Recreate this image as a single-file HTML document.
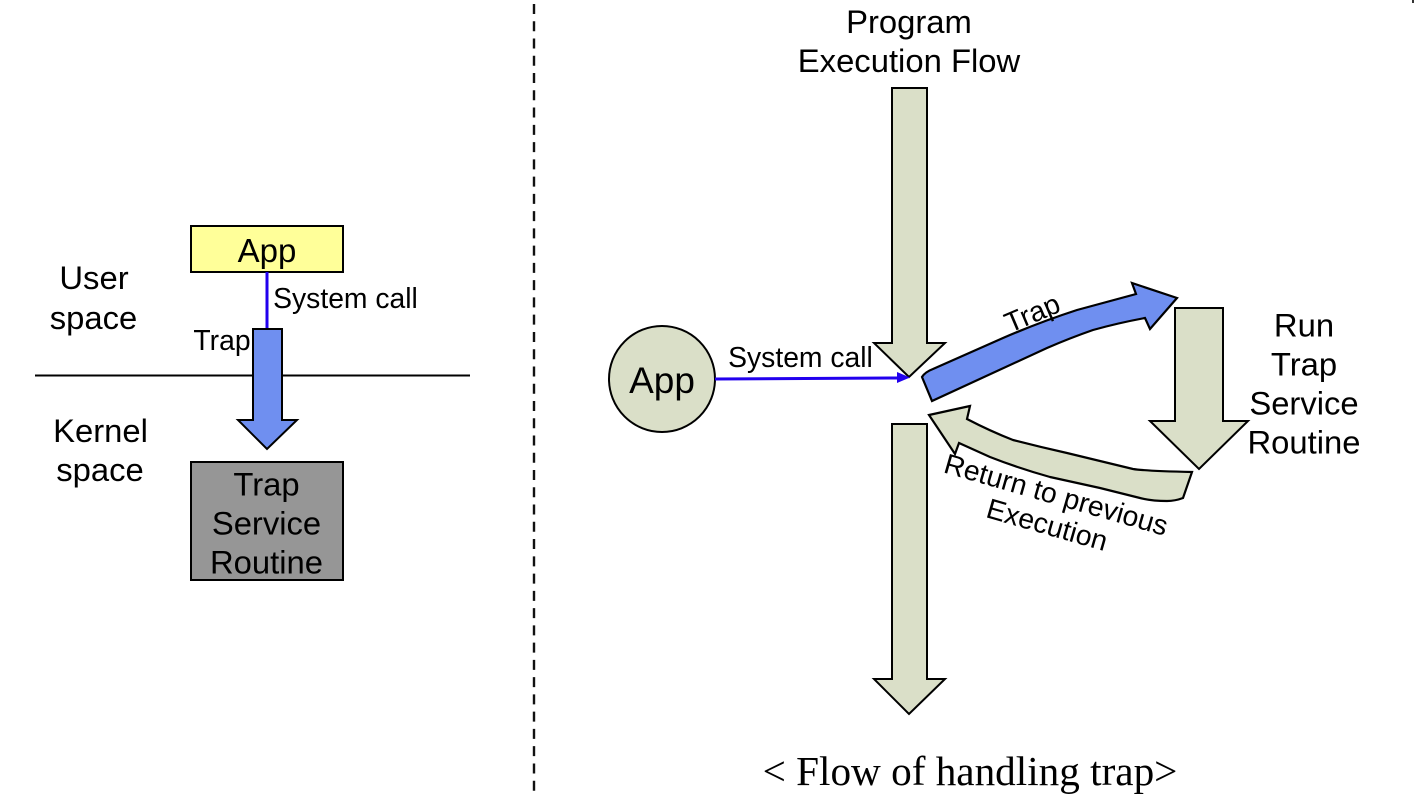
<!DOCTYPE html>
<html>
<head>
<meta charset="utf-8">
<style>
html,body{margin:0;padding:0;background:#fff;width:1414px;height:798px;overflow:hidden}
svg{display:block}
text{font-family:"Liberation Sans",sans-serif;fill:#000;text-anchor:middle}
</style>
</head>
<body>
<svg width="1414" height="798" viewBox="0 0 1414 798" xmlns="http://www.w3.org/2000/svg">
<rect width="1414" height="798" fill="#fff"/>
<rect x="1412" y="0" width="2" height="3" fill="#333"/>
<line x1="534" y1="4" x2="534" y2="798" stroke="#111" stroke-width="2.4" stroke-dasharray="10 7.26"/>

<!-- left -->
<line x1="35" y1="375.5" x2="470" y2="375.5" stroke="#000" stroke-width="2"/>
<rect x="191" y="226" width="152" height="46" fill="#ffff99" stroke="#000" stroke-width="2"/>
<text x="267" y="262" font-size="33">App</text>
<line x1="267" y1="272" x2="267" y2="329" stroke="#2200ee" stroke-width="3"/>
<polygon points="253,329 282,329 282,420 297,420 267,449 238,420 253,420" fill="#6f8ff0" stroke="#000" stroke-width="2"/>
<rect x="191" y="462" width="152" height="118" fill="#969696" stroke="#000" stroke-width="2"/>
<text x="266.500" y="495.500" font-size="32.800">Trap</text>
<text x="266.500" y="534.500" font-size="32.800">Service</text>
<text x="266.500" y="573.500" font-size="32.800">Routine</text>
<text x="94" y="289" font-size="32.800">User</text>
<text x="93.500" y="329" font-size="32.800">space</text>
<text x="100.500" y="442" font-size="32.800">Kernel</text>
<text x="100" y="481" font-size="32.800">space</text>
<text x="345.500" y="308" font-size="28.300">System call</text>
<text x="222" y="350" font-size="28.300">Trap</text>

<!-- right -->
<text x="909" y="33" font-size="32.800">Program</text>
<text x="909" y="72" font-size="32.800">Execution Flow</text>
<polygon points="892,88 927,88 927,343 945,343 909,377 874,343 892,343" fill="#dadfc8" stroke="#000" stroke-width="2"/>
<polygon points="892,424 927,424 927,679 945,679 909,714 874,679 892,679" fill="#dadfc8" stroke="#000" stroke-width="2"/>
<polygon points="1175,308 1223,308 1223,421 1248,421 1199,469 1150,421 1175,421" fill="#dadfc8" stroke="#000" stroke-width="2"/>

<circle cx="662" cy="379" r="53" fill="#dadfc8" stroke="#000" stroke-width="2"/>
<text x="662" y="393" font-size="37">App</text>
<line x1="715" y1="379" x2="900" y2="378" stroke="#2200ee" stroke-width="3"/>
<polygon points="897,372 910,377.500 897,383" fill="#2200ee"/>
<text x="800.500" y="367" font-size="28.300">System call</text>

<path d="M922,377 Q925,372 933,369 L1003,338 Q1040,322 1077,310 L1136,294 L1132,283 L1177,298 L1150,329 L1145,318 Q1118,323 1093,330 Q1070,338 1047,348 L932,401 Z" fill="#6f8ff0" stroke="#000" stroke-width="2.2" stroke-linejoin="miter"/>
<path d="M929,415 L970,406 L967,419 Q990,431 1013,440 Q1040,447 1067,453 L1133,469 Q1145,471 1192,472 L1183,498 Q1175,501 1167,501 Q1152,501 1140,498 L1100,488 L1050,477 Q1018,468 990,457 L959,443 L955,454 Z" fill="#dadfc8" stroke="#000" stroke-width="2.2"/>

<text transform="translate(1036,322) rotate(-23)" font-size="28.300">Trap</text>
<text transform="translate(1053.500,504) rotate(16)" font-size="28.300">Return to previous</text>
<text transform="translate(1044.500,534) rotate(16)" font-size="28.300">Execution</text>

<text x="1304" y="336.500" font-size="32.800">Run</text>
<text x="1304" y="375.500" font-size="32.800">Trap</text>
<text x="1304" y="414.500" font-size="32.800">Service</text>
<text x="1304" y="453.500" font-size="32.800">Routine</text>

<text x="970" y="785" font-size="41.200" style="font-family:'Liberation Serif',serif">&lt; Flow of handling trap&gt;</text>
</svg>
</body>
</html>
